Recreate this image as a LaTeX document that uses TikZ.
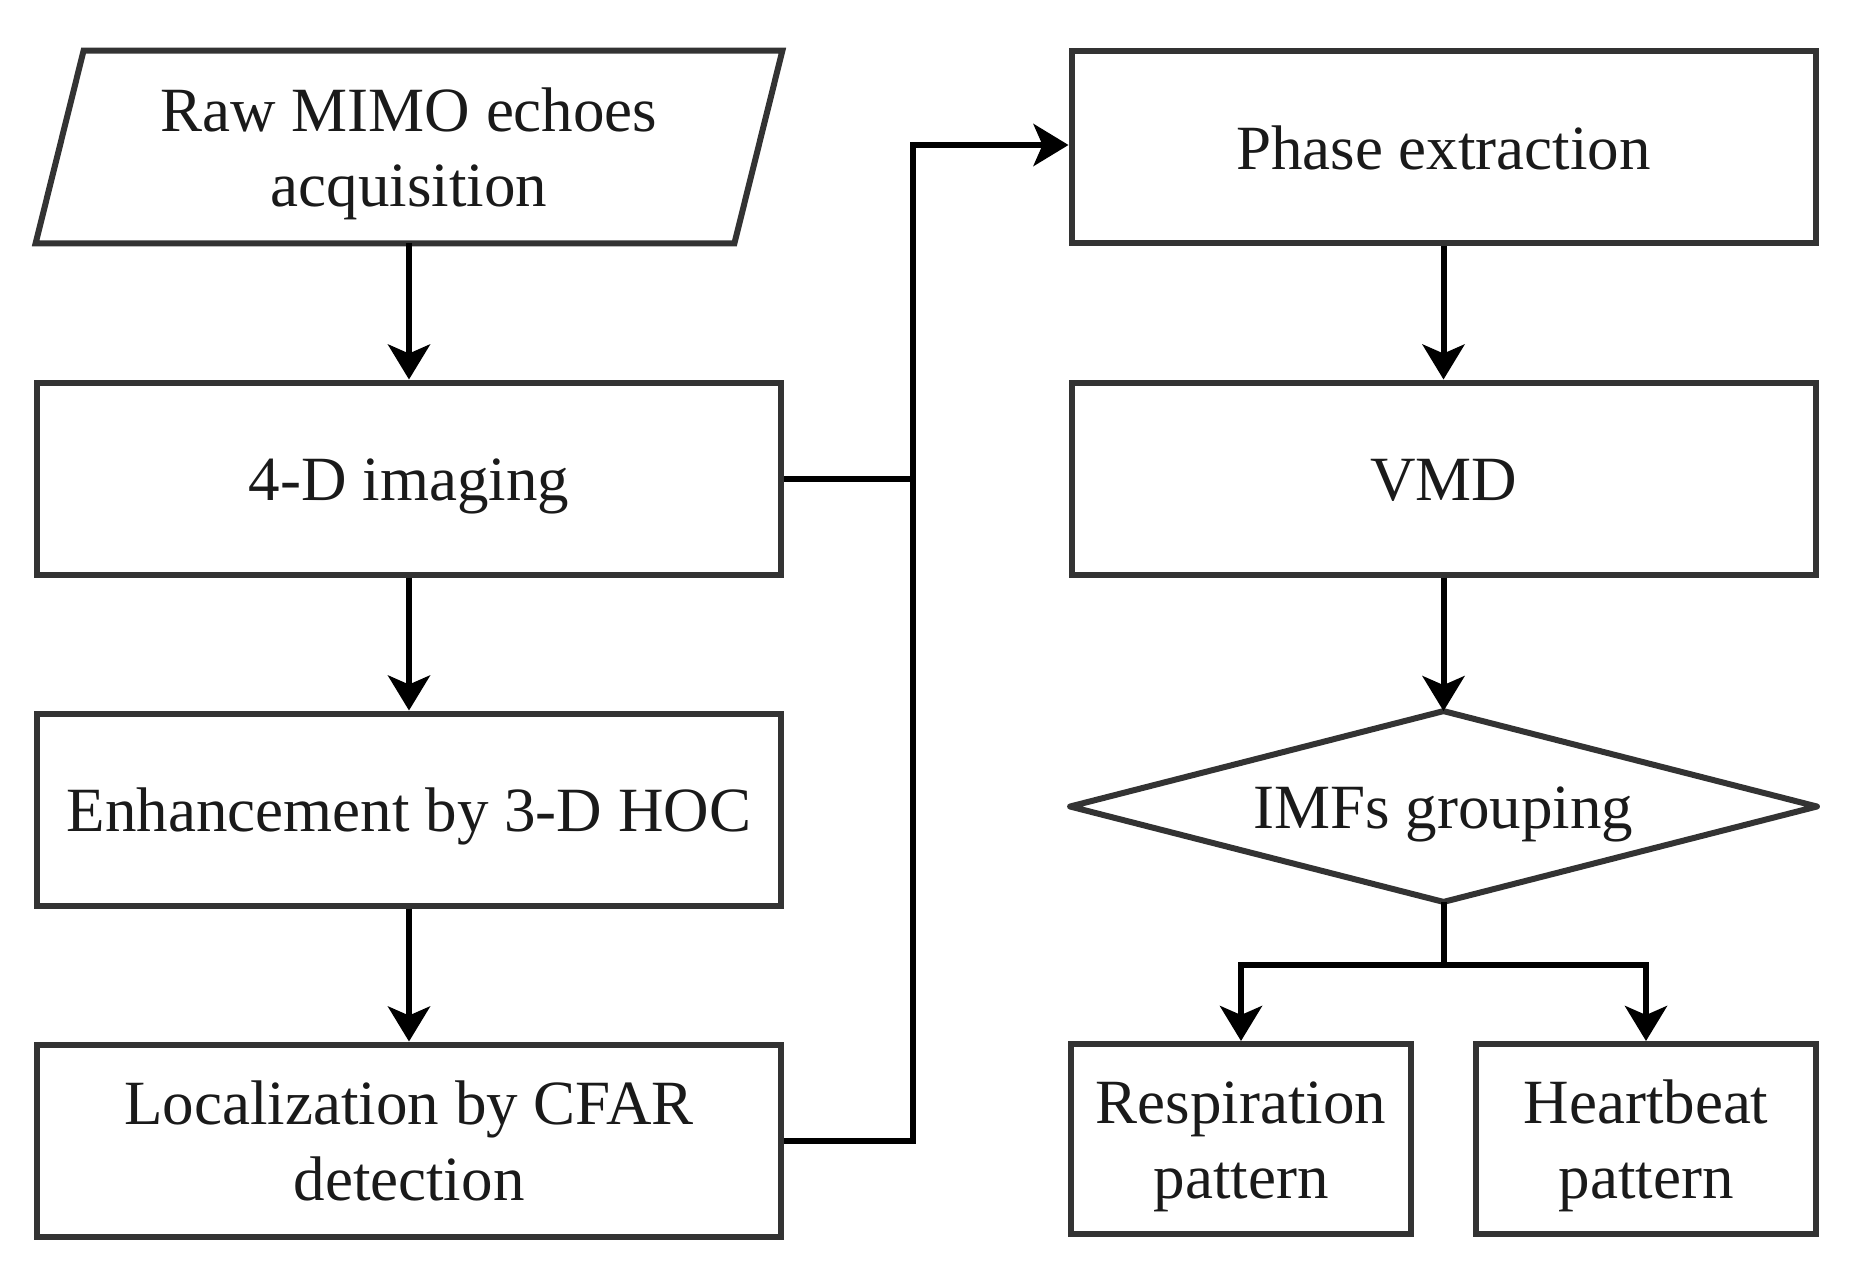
\documentclass[tikz,border=0pt]{standalone}
\usepackage{fontspec}
\setmainfont{Liberation Serif}
\usetikzlibrary{arrows.meta}
\definecolor{boxgray}{HTML}{333333}
\definecolor{txtcol}{HTML}{1A1A1A}
\newcommand\lnstrut{\rule[-6.8pt]{0pt}{35.6pt}}
\begin{document}
\begin{tikzpicture}[x=0.5pt,y=-0.5pt,
  txt/.style={align=center, text=txtcol, inner sep=0pt,
    font=\fontsize{31.5}{37.8}\selectfont},
  box/.style={txt, draw=boxgray, line width=3pt, minimum width=372pt, minimum height=96pt},
  sbox/.style={txt, draw=boxgray, line width=3pt, minimum width=170pt, minimum height=95pt},
  boxline/.style={draw=boxgray, line width=3pt, line join=miter},
  line/.style={draw=black, line width=3pt},
  conn/.style={line, -{Stealth[length=17.5pt,width=21pt,inset=4.5pt]}}]
\useasboundingbox (0,0) rectangle (1857,1269);
% left column
\node[txt, minimum width=349pt, minimum height=96pt] (raw) at (409,147) {\lnstrut Raw MIMO echoes\\\lnstrut acquisition};
\draw[boxline] ([xshift=12pt]raw.north west) -- ([xshift=12pt]raw.north east)
  -- ([xshift=-12pt]raw.south east) -- ([xshift=-12pt]raw.south west) -- cycle;
\node[box] (fourd) at (409,478.5) {\lnstrut 4-D imaging};
\node[box] (enh) at (409,809.5) {\lnstrut Enhancement by 3-D HOC};
\node[box] (loc) at (409,1140.5) {\lnstrut Localization by CFAR\\\lnstrut detection};
% right column
\node[box] (phase) at (1443.5,147) {\lnstrut Phase extraction};
\node[box] (vmd) at (1443.5,478.5) {\lnstrut VMD};
\node[txt, minimum width=373pt, minimum height=95pt] (imf) at (1443.5,806.5) {\lnstrut IMFs grouping};
\draw[boxline, line join=round] (imf.north) -- (imf.east) -- (imf.south) -- (imf.west) -- cycle;
\node[sbox] (resp) at (1241,1139) {\lnstrut Respiration\\\lnstrut pattern};
\node[sbox] (heart) at (1646,1139) {\lnstrut Heartbeat\\\lnstrut pattern};
% connectors
\coordinate (bus) at (913,145);
\coordinate (split) at (1443.5,965);
\draw[conn] (raw.south) -- (fourd.north);
\draw[conn] (fourd) -- (enh);
\draw[conn] (enh) -- (loc);
\draw[line] (fourd.east) -- (fourd.east -| bus);
\draw[conn] (loc.east) -| (bus) -- (bus -| phase.west);
\draw[conn] (phase) -- (vmd);
\draw[conn] (vmd) -- (imf.north);
\draw[line] (imf.south) -- (split);
\draw[conn] (split) -| (resp.north);
\draw[conn] (split) -| (heart.north);
\end{tikzpicture}
\end{document}
